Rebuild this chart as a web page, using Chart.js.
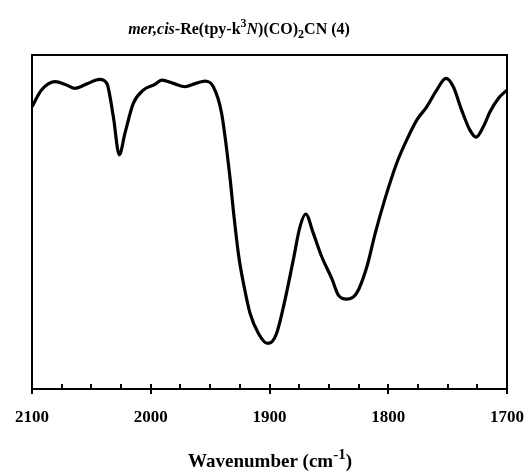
<!DOCTYPE html>
<html>
<head>
<meta charset="utf-8">
<script src="https://cdn.jsdelivr.net/npm/chart.js@4.4.1/dist/chart.umd.min.js"></script>
<style>
  html, body { margin: 0; padding: 0; background: #fff; }
  #wrap { width: 531px; height: 475px; position: relative; }
</style>
</head>
<body>
<div id="wrap"><canvas id="irChart" width="531" height="475"></canvas></div>
<script>
/* IR spectrum – mer,cis-Re(tpy-k3N)(CO)2CN (4) */

// wavenumber (cm-1)
const WAVENUMBERS = [
    2100, 2092, 2080.5, 2072, 2064, 2053, 2043, 2037, 2031.5, 2026.5,
    2021.7, 2014.7, 2006.3, 1996.4, 1990.8, 1981, 1971.2, 1962, 1954.3, 1947.3,
    1940.3, 1933.5, 1930, 1926, 1921, 1916.4, 1909.4, 1902, 1899, 1894,
    1887, 1880, 1874.3, 1869.5, 1863.1, 1856, 1847.6, 1842, 1835, 1826.6,
    1818, 1811, 1802.7, 1792.9, 1784.4, 1776, 1767.6, 1759.2, 1751.4, 1745.2,
    1738.2, 1731.2, 1726.1, 1720, 1714.3, 1707.3, 1700
];
// transmittance, arbitrary units (axis has no labels)
const TRANSMITTANCE = [
    84.5, 89.5, 92.0, 91.2, 90.0, 91.5, 92.7, 91.5, 81.5, 70.1,
    76.6, 85.5, 89.5, 91.2, 92.5, 91.5, 90.5, 91.5, 92.2, 90.5,
    82.5, 64.0, 52.0, 40.0, 30.0, 22.7, 16.7, 13.7, 13.9, 16.7,
    26.6, 38.6, 48.6, 52.4, 46.6, 39.6, 33.1, 28.1, 26.9, 28.7,
    36.6, 46.6, 57.0, 67.6, 74.6, 80.5, 84.5, 89.5, 93.0, 90.5,
    83.5, 77.5, 75.4, 78.5, 83.0, 87.0, 89.5
];
const X_MIN = 1700, X_MAX = 2100;
const MAJOR_STEP = 100, MINOR_STEP = 25;

const TITLE_PARTS = [
    { text: 'mer,cis', italic: true },
    { text: '-Re(tpy-k' },
    { text: '3', sup: true },
    { text: 'N', italic: true },
    { text: ')(CO)' },
    { text: '2', sub: true },
    { text: 'CN (4)' }
];
const XTITLE_PARTS = [
    { text: 'Wavenumber (cm' },
    { text: '-1', sup: true },
    { text: ')' }
];

const FONT_FAMILY = '"Liberation Serif", "DejaVu Serif", serif';

function drawRich(ctx, parts, cx, baseY, size) {
    const fontOf = p => `${p.italic ? 'italic ' : ''}bold ${(p.sup || p.sub) ? Math.round(size * 0.78) : size}px ${FONT_FAMILY}`;
    let total = 0;
    parts.forEach(p => { ctx.font = fontOf(p); total += ctx.measureText(p.text).width; });
    let x = cx - total / 2;
    ctx.textAlign = 'left';
    ctx.textBaseline = 'alphabetic';
    ctx.fillStyle = '#000';
    parts.forEach(p => {
        ctx.font = fontOf(p);
        let y = baseY;
        if (p.sup) y -= size * 0.42;
        if (p.sub) y += size * 0.25;
        ctx.fillText(p.text, x, y);
        x += ctx.measureText(p.text).width;
    });
}

const framePlugin = {
    id: 'irFrame',
    afterDraw(chart) {
        const { ctx, chartArea: a, scales } = chart;
        const xs = scales.x;
        ctx.save();
        ctx.strokeStyle = '#000';
        ctx.lineWidth = 2;
        ctx.strokeRect(a.left, a.top, a.right - a.left, a.bottom - a.top);

        // tick marks: majors cross the axis, minors point inward
        ctx.beginPath();
        for (let v = X_MIN; v <= X_MAX; v += MINOR_STEP) {
            const px = Math.round(xs.getPixelForValue(v));
            if (v % MAJOR_STEP === 0) {
                ctx.moveTo(px, a.bottom - 5);
                ctx.lineTo(px, a.bottom + 5);
            } else {
                ctx.moveTo(px, a.bottom - 5);
                ctx.lineTo(px, a.bottom);
            }
        }
        ctx.stroke();

        drawRich(ctx, TITLE_PARTS, 239, 34, 16);
        drawRich(ctx, XTITLE_PARTS, 270, 467, 19);
        ctx.restore();
    }
};

const points = WAVENUMBERS.map((w, i) => ({ x: w, y: TRANSMITTANCE[i] }));

new Chart(document.getElementById('irChart'), {
    type: 'line',
    data: {
        datasets: [{
            data: points,
            borderColor: '#000',
            borderWidth: 3.2,
            pointRadius: 0,
            fill: false,
            cubicInterpolationMode: 'monotone',
        }]
    },
    options: {
        responsive: false,
        animation: false,
        devicePixelRatio: 1,
        layout: { padding: { left: 32, right: 24, top: 55, bottom: 0 } },
        plugins: { legend: { display: false }, tooltip: { enabled: false } },
        scales: {
            x: {
                type: 'linear',
                reverse: true,
                min: X_MIN, max: X_MAX,
                grid: { display: false, drawTicks: false },
                border: { display: false },
                afterFit: s => { s.height = 86; s.paddingLeft = 0; s.paddingRight = 0; },
                ticks: {
                    stepSize: MINOR_STEP,
                    autoSkip: false,
                    maxRotation: 0,
                    padding: 18,
                    color: '#000',
                    font: { family: FONT_FAMILY, size: 17, weight: 'bold' },
                    callback: v => (v % MAJOR_STEP === 0 ? String(v) : '')
                }
            },
            y: {
                display: false,
                min: 0, max: 100
            }
        }
    },
    plugins: [framePlugin]
});
</script>
</body>
</html>
